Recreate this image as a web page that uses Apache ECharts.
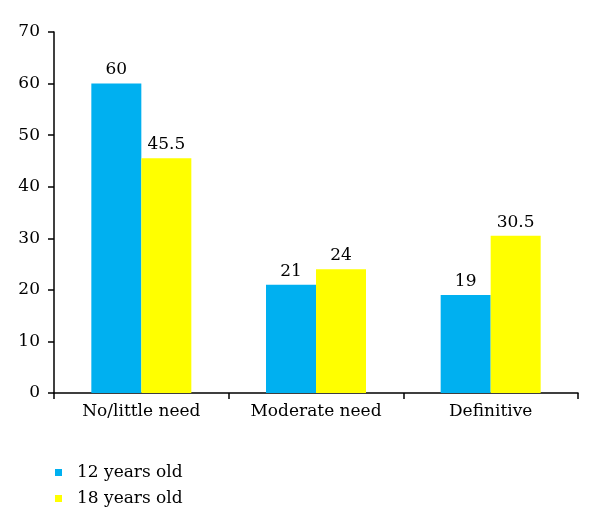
<!DOCTYPE html>
<html>
<head>
<meta charset="utf-8">
<script src="https://cdn.jsdelivr.net/npm/echarts@6/dist/echarts.min.js"></script>
<style>html,body{margin:0;padding:0;background:#fff;}#c{width:600px;height:531px;}</style>
</head>
<body>
<div id="c"></div>
<script>
var categories = ['No/little need', 'Moderate need', 'Definitive'];
var seriesNames = ['12 years old', '18 years old'];
var values12 = [60, 21, 19];
var values18 = [45.5, 24, 30.5];
var yTicks = [0, 10, 20, 30, 40, 50, 60, 70];

var FONT = 'DejaVu Serif';
var chart = echarts.init(document.getElementById('c'));
var label = {show: true, position: 'top', distance: 5, color: '#000', fontFamily: FONT, fontSize: 17};
chart.setOption({
  animation: false,
  textStyle: {fontFamily: FONT},
  grid: {left: 54, right: 22, top: 32, bottom: 138, containLabel: false},
  legend: {
    orient: 'vertical', left: 50, top: 459,
    itemWidth: 7, itemHeight: 7, itemGap: 9, icon: 'rect',
    textStyle: {fontFamily: FONT, fontSize: 17, color: '#000', padding: [0, 0, 0, 10]},
    data: seriesNames
  },
  xAxis: {
    type: 'category', data: categories,
    axisLine: {lineStyle: {color: '#000', width: 1.5}},
    axisTick: {show: true, length: 6, lineStyle: {color: '#000', width: 1.5}},
    axisLabel: {color: '#000', fontFamily: FONT, fontSize: 17, margin: 10}
  },
  yAxis: {
    type: 'value', min: yTicks[0], max: yTicks[yTicks.length - 1], interval: 10,
    splitLine: {show: false},
    axisLine: {show: true, lineStyle: {color: '#000', width: 1.5}},
    axisTick: {show: true, length: 6, lineStyle: {color: '#000', width: 1.5}},
    axisLabel: {color: '#000', fontFamily: FONT, fontSize: 17, margin: 14}
  },
  series: [
    {name: seriesNames[0], type: 'bar', data: values12, barWidth: 50, barGap: '0%',
     itemStyle: {color: '#00B0F0'}, label: label},
    {name: seriesNames[1], type: 'bar', data: values18, barWidth: 50, barGap: '0%',
     itemStyle: {color: '#FFFF00'}, label: label}
  ]
});
</script>
</body>
</html>
